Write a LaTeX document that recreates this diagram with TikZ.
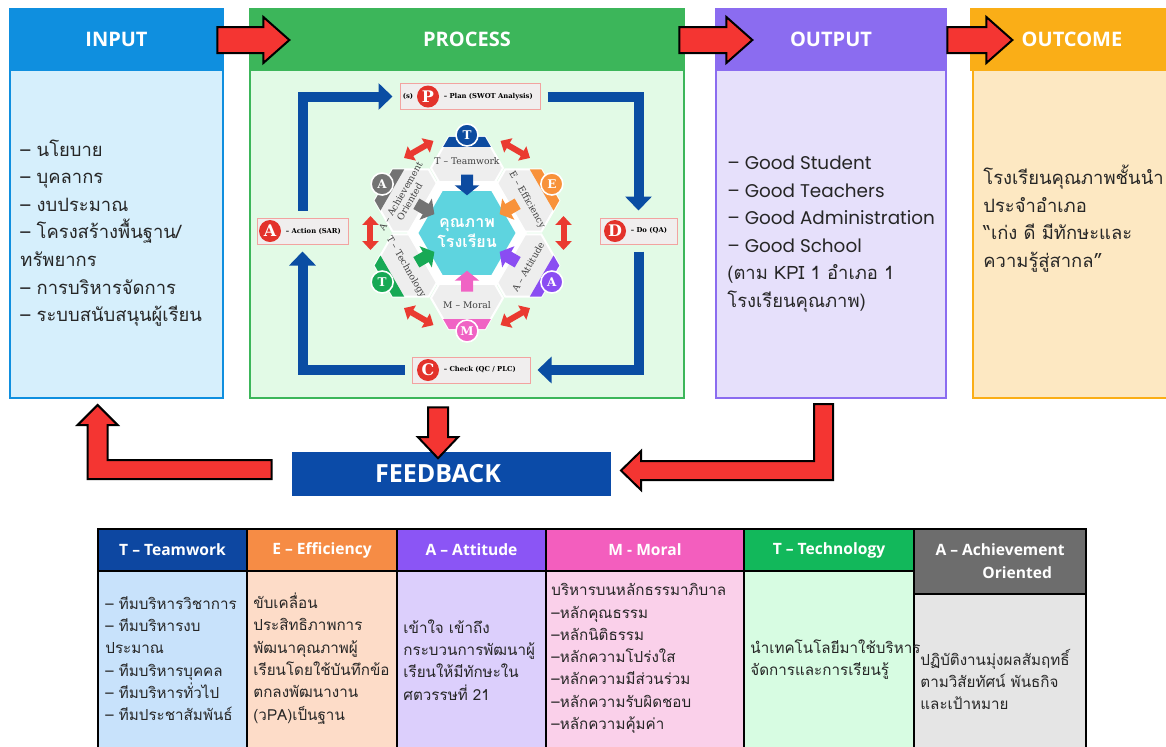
\documentclass[tikz,border=0pt]{standalone}
\usepackage{fontspec}
\setmainfont{Open Sans}
\newfontfamily\thaifont[Script=Thai]{Loma}
\newfontfamily\latinfont{Poppins}
\newfontfamily\slabfont{DejaVu Serif}
\usetikzlibrary{positioning,calc,arrows.meta,shapes.geometric,shapes.misc,shapes.arrows}

\definecolor{inhead}{HTML}{0F8FDF}
\definecolor{inbody}{HTML}{D6EFFC}
\definecolor{prochead}{HTML}{3CB65A}
\definecolor{procbody}{HTML}{E2FAE6}
\definecolor{outhead}{HTML}{8B6CF0}
\definecolor{outbody}{HTML}{E6E0FB}
\definecolor{ochead}{HTML}{FAAE17}
\definecolor{ocbody}{HTML}{FDE8C2}
\definecolor{arrred}{HTML}{F43532}
\definecolor{loopblue}{HTML}{0A4DA3}
\definecolor{fbblue}{HTML}{0B4BA8}
\definecolor{pdcared}{HTML}{E3322B}
\definecolor{boxgray}{HTML}{F0EEEE}
\definecolor{hexgray}{HTML}{EEEEEE}
\definecolor{coreblue}{HTML}{5ED4DF}
\definecolor{hexred}{HTML}{EA3A30}
\definecolor{cT}{HTML}{0D4BA0}
\definecolor{cE}{HTML}{F8923A}
\definecolor{cA}{HTML}{8A4DF2}
\definecolor{cM}{HTML}{F063C4}
\definecolor{cG}{HTML}{17A955}
\definecolor{cO}{HTML}{737373}
\definecolor{th1}{HTML}{0D47A1}
\definecolor{tb1}{HTML}{C8E2FB}
\definecolor{th2}{HTML}{F68C45}
\definecolor{tb2}{HTML}{FDDCC8}
\definecolor{th3}{HTML}{8B55F5}
\definecolor{tb3}{HTML}{DCCFFC}
\definecolor{th4}{HTML}{F35EBE}
\definecolor{tb4}{HTML}{FAD0EA}
\definecolor{th5}{HTML}{12B85B}
\definecolor{tb5}{HTML}{D7FCE2}
\definecolor{th6}{HTML}{6D6D6D}
\definecolor{tb6}{HTML}{E5E5E5}

\begin{document}
\begin{tikzpicture}[x=0.5pt,y=-0.5pt,
    headbox/.style={rectangle, inner sep=0, line width=1pt, text=white,
      font=\bfseries\fontsize{10}{12}\selectfont, minimum height=30.5pt},
    bodybox/.style={rectangle, inner sep=0, line width=1pt, minimum height=164pt},
    listtext/.style={anchor=west, align=left, inner sep=0, text=black!85},
    blockarrow/.style={single arrow, fill=arrred, draw=black, line width=1pt,
      inner xsep=0pt, inner ysep=6pt, single arrow head extend=5pt,
      single arrow tip angle=83},
    fbarrow/.style={fill=arrred, draw=black, line width=1pt, line join=miter},
    pdcabox/.style={chamfered rectangle, chamfered rectangle xsep=2pt,
      chamfered rectangle ysep=2pt, fill=boxgray, draw=pdcared!45,
      line width=0.5pt, inner sep=0, minimum height=13pt},
    redc/.style={circle, fill=pdcared, inner sep=0, minimum size=11pt, text=white,
      font=\slabfont\bfseries\fontsize{8}{8}\selectfont},
    pdcatext/.style={inner sep=0, font=\slabfont\bfseries\fontsize{3.4}{4}\selectfont},
    pdcaloop/.style={draw=loopblue, line width=5pt, line join=miter,
      -{Triangle[width=13pt,length=7pt]}, shorten <=3.5pt, shorten >=3.5pt},
    hexa/.style={regular polygon, regular polygon sides=6, inner sep=0,
      minimum size=36pt, fill=hexgray, draw=white, line width=1pt},
    badge/.style={circle, inner sep=0, minimum size=11pt, draw=white,
      line width=0.8pt, text=white, font=\slabfont\bfseries\fontsize{6}{6}\selectfont},
    hexlabel/.style={inner sep=0, align=center, text=black!75,
      font=\slabfont\fontsize{4.6}{5.2}\selectfont},
    inarrow/.style={line width=6pt, -{Triangle[width=12pt,length=5pt]}},
    dblarrow/.style={draw=hexred, line width=3pt,
      {Triangle[width=8pt,length=4.5pt]}-{Triangle[width=8pt,length=4.5pt]}},
    cell/.style={rectangle, inner sep=0, draw=black, line width=1pt, anchor=north west},
    celltext/.style={anchor=west, align=left, inner sep=0, text=black!85,
      font=\thaifont\fontsize{7.6}{11.15}\selectfont},
    thtext/.style={inner sep=0, align=center, text=white,
      font=\bfseries\fontsize{7.8}{11.5}\selectfont}]

\useasboundingbox (0,0) rectangle (1166,746);
\fill[white] (0,0) rectangle (1166,746);

\node[bodybox, draw=inhead, fill=inbody, minimum width=106.5pt] (inbody) at (116.5,234) {};
\node[headbox, draw=inhead, fill=inhead, minimum width=106.5pt] (inhead) at (116.5,39.5) {INPUT};
\node[bodybox, draw=prochead, fill=procbody, minimum width=217pt] (procbody) at (467,234) {};
\node[headbox, draw=prochead, fill=prochead, minimum width=217pt] (prochead) at (467,39.5) {PROCESS};
\node[bodybox, draw=outhead, fill=outbody, minimum width=115pt] (outbody) at (831,234) {};
\node[headbox, draw=outhead, fill=outhead, minimum width=115pt] (outhead) at (831,39.5) {OUTPUT};
\node[bodybox, draw=ochead, fill=ocbody, minimum width=101pt] (ocbody) at (1074,234) {};
\node[headbox, draw=ochead, fill=ochead, minimum width=101pt] (ochead) at (1072,39.5) {OUTCOME};

\node[blockarrow, minimum height=36pt] (a1) at (246,40) {};
\node[blockarrow, minimum height=36.5pt] (a2) at (708.5,40) {};
\node[blockarrow, minimum height=32.5pt] (a3) at (972.5,40) {};

\node[listtext, font=\thaifont\fontsize{9.2}{13.8}\selectfont] (intext) at (20,233)
  {– นโยบาย\\– บุคลากร\\– งบประมาณ\\– โครงสร้างพื้นฐาน/\\ทรัพยากร\\– การบริหารจัดการ\\– ระบบสนับสนุนผู้เรียน};
\node[listtext, font=\fontsize{9.2}{13.8}\selectfont] (outtext) at (727,234)
  {{\latinfont – Good Student}\\{\latinfont – Good Teachers}\\{\latinfont – Good Administration}\\{\latinfont – Good School}\\{\thaifont (ตาม KPI 1 อำเภอ 1}\\{\thaifont โรงเรียนคุณภาพ)}};
\node[listtext, font=\thaifont\fontsize{9.2}{13.8}\selectfont] (octext) at (983,218.5)
  {โรงเรียนคุณภาพชั้นนำ\\ประจำอำเภอ\\“เก่ง ดี มีทักษะและ\\ความรู้สู่สากล”};

% PDCA loop
\node[pdcabox, minimum width=70pt] (planP) at (470,96.5) {};
\node[redc] (pc) at (428,96.5) {P};
\node[pdcatext, left=1.5pt of pc] (ps) {(s)};
\node[pdcatext, right=2pt of pc] (pl) {– Plan (SWOT Analysis)};
\node[pdcabox, minimum width=38.5pt] (doD) at (638.5,231) {};
\node[redc] (dc) at (615,231) {D};
\node[pdcatext, right=2pt of dc] (dl) {– Do (QA)};
\node[pdcabox, minimum width=59pt] (chkC) at (471,370) {};
\node[redc] (cc) at (428,370) {C};
\node[pdcatext, right=2pt of cc] (cl) {– Check (QC / PLC)};
\node[pdcabox, minimum width=45.5pt] (actA) at (302.5,231) {};
\node[redc] (ac) at (270,231) {A};
\node[pdcatext, right=2pt of ac] (al) {– Action (SAR)};

\draw[pdcaloop] (actA.north) |- (planP.west);
\draw[pdcaloop] (planP.east) -| (doD.north);
\draw[pdcaloop] (doD.south) |- (chkC.east);
\draw[pdcaloop] (chkC.west) -| (actA.south);

% hexagon cluster
\foreach \a/\col/\l [count=\n] in {90/cT/T, 30/cE/E, -30/cA/A, -90/cM/M, -150/cG/T, 150/cO/A}{
  \node[hexa] (h\n) at ({467+65*cos(\a)},{233-65*sin(\a)}) {};
  \begin{scope}[shift={(h\n.center)}, rotate=\a-90]
    \fill[\col] (-18,-31.2) -- (18,-31.2) -- (23.8,-21.2) -- (-23.8,-21.2) -- cycle;
  \end{scope}
  \node[badge, fill=\col] (b\n) at ({467+98*cos(\a)},{233-98*sin(\a)}) {\l};
}
\node[hexa, fill=white, draw=none, minimum size=60pt] (ring) at (467,233) {};
\node[hexa, fill=coreblue, draw=none, minimum size=45pt, align=center, text=white,
  font=\thaifont\bfseries\fontsize{8}{10}\selectfont] (core) at (467,233) {คุณภาพ\\โรงเรียน};
\foreach \col [count=\n] in {cT,cE,cA,cM,cG,cO}
  \draw[inarrow, draw=\col] ($(h\n)!0.1!(core)$) -- ($(h\n)!0.42!(core)$);
\foreach \a in {0,60,...,300}
  \draw[dblarrow] ({467+98*cos(\a+10)},{233-98*sin(\a+10)}) -- ({467+98*cos(\a-10)},{233-98*sin(\a-10)});

\node[hexlabel] (lT) at (467,161) {T – Teamwork};
\node[hexlabel, rotate=-60] (lE) at (527,200) {E – Efficiency};
\node[hexlabel, rotate=60] (lA) at (528,267) {A – Attitude};
\node[hexlabel] (lM) at (467,305) {M – Moral};
\node[hexlabel, rotate=-60] (lG) at (406,267) {T – Technology};
\node[hexlabel, rotate=60] (lO) at (405,199) {A – Achievement\\Oriented};

% feedback
\node[fill=fbblue, inner sep=0, minimum width=159.5pt, minimum height=22pt] (fb) at (451.5,474) {};
\node[inner sep=0, text=white, font=\bfseries\fontsize{12.5}{14}\selectfont] (fbt) at (438,474) {FEEDBACK};
\node[blockarrow, rotate=-90, minimum height=25.5pt, inner ysep=4.5pt,
  single arrow tip angle=87] (adown) at (438,427.5) {};
\filldraw[fbarrow] ($(fb.west)+(-20,-14)$) -- ++(-164,0) -- ++(0,-35) -- ++(10,0)
  -- ++(-20,-20) -- ++(-20,20) -- ++(10,0) -- ++(0,54) -- ++(184,0) -- cycle;
\filldraw[fbarrow] ($(outbody.south)+(2,5)$) -- ++(0,76) -- ++(-192,0) -- ++(0,10)
  -- ++(-20,-19.5) -- ++(20,-19.5) -- ++(0,10) -- ++(173,0) -- ++(0,-57) -- cycle;

% table
\foreach \cx/\cw/\hh [count=\i] in {97/149/42, 246/150/42, 396/149/42, 545/198/42, 743/170/42, 913/172/65}{
  \node[cell, fill=tb\i, minimum width=\cw*0.5pt, minimum height={(240-\hh)*0.5pt}] (tb\i) at (\cx,528+\hh) {};
  \node[cell, fill=th\i, minimum width=\cw*0.5pt, minimum height=\hh*0.5pt] (th\i) at (\cx,528) {};
}
\node[thtext] (tt1) at (th1) {T – Teamwork};
\node[thtext] (tt2) at (th2) {E – Efficiency};
\node[thtext] (tt3) at (th3) {A – Attitude};
\node[thtext] (tt4) at (th4) {M - Moral};
\node[thtext] (tt5) at (th5) {T – Technology};
\node[thtext] (tt6) at (th6) {A – Achievement\\\hspace*{2.2em}Oriented};

\node[celltext] (tx1) at (105,658.5) {– ทีมบริหารวิชาการ\\– ทีมบริหารงบ\\ประมาณ\\– ทีมบริหารบุคคล\\– ทีมบริหารทั่วไป\\– ทีมประชาสัมพันธ์};
\node[celltext] (tx2) at (253,658.5) {ขับเคลื่อน\\ประสิทธิภาพการ\\พัฒนาคุณภาพผู้\\เรียนโดยใช้บันทึกข้อ\\ตกลงพัฒนางาน\\(วPA)เป็นฐาน};
\node[celltext] (tx3) at (403,660) {เข้าใจ เข้าถึง\\กระบวนการพัฒนาผู้\\เรียนให้มีทักษะใน\\ศตวรรษที่ 21};
\node[celltext] (tx4) at (551,658.5) {บริหารบนหลักธรรมาภิบาล\\–หลักคุณธรรม\\–หลักนิติธรรม\\–หลักความโปร่งใส\\–หลักความมีส่วนร่วม\\–หลักความรับผิดชอบ\\–หลักความคุ้มค่า};
\node[celltext] (tx5) at (750,659.5) {นำเทคโนโลยีมาใช้บริหาร\\จัดการและการเรียนรู้};
\node[celltext] (tx6) at (920,679.5) {ปฏิบัติงานมุ่งผลสัมฤทธิ์\\ตามวิสัยทัศน์ พันธกิจ\\และเป้าหมาย};
\end{tikzpicture}
\end{document}
